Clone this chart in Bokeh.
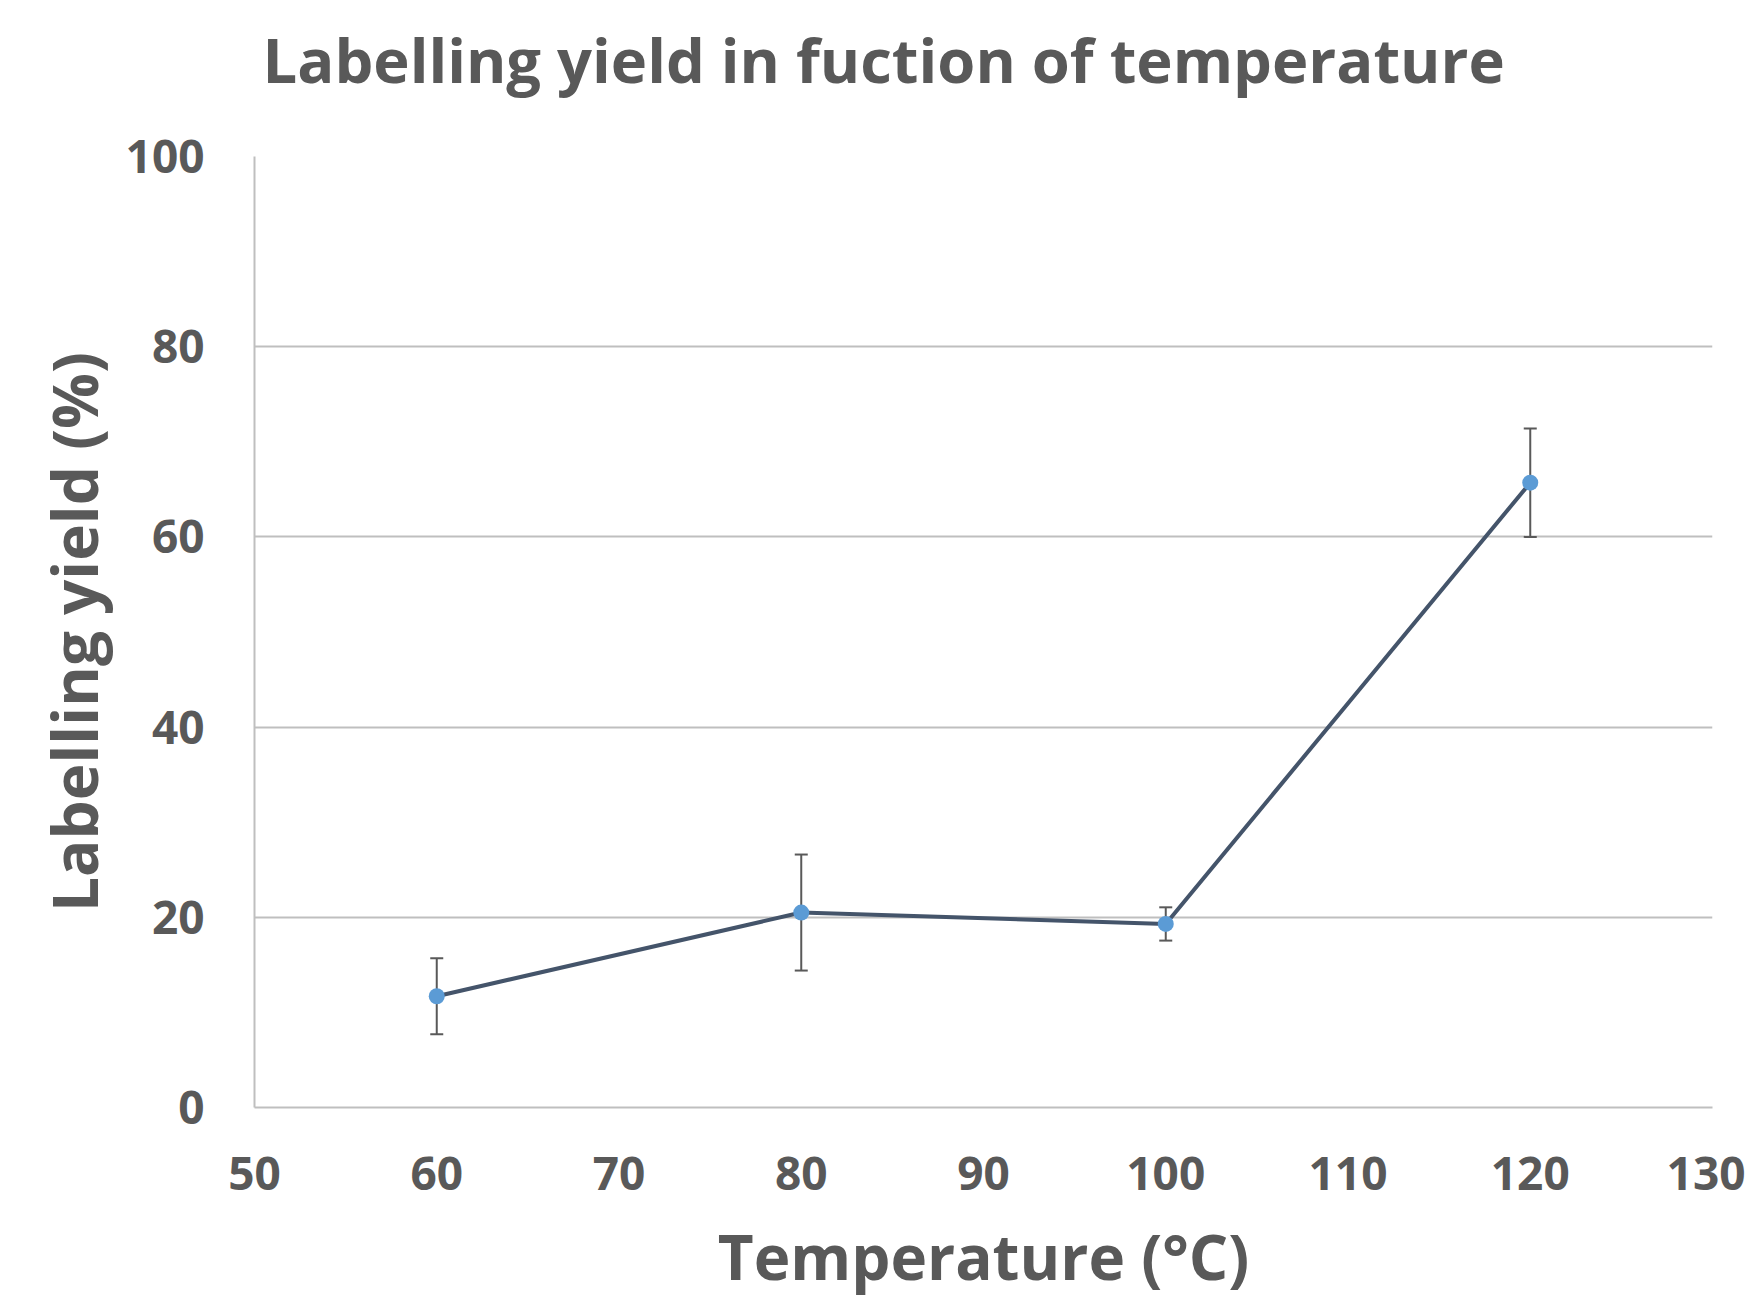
from bokeh.plotting import figure
from bokeh.models import ColumnDataSource, Whisker, TeeHead, FixedTicker, Range1d, Title
from bokeh.embed import file_html
from bokeh.resources import INLINE

# ---- data ----
temperature = [60, 80, 100, 120]
yield_pct = [11.7, 20.5, 19.3, 65.7]
yield_err = [4.0, 6.1, 1.75, 5.7]

x_ticks = [50, 60, 70, 80, 90, 100, 110, 120, 130]
y_ticks = [0, 20, 40, 60, 80, 100]

title_text = "Labelling yield in fuction of temperature"
x_label = "Temperature (°C)"
y_label = "Labelling yield (%)"

FONT = "Open Sans"
TEXT = "#595959"

src = ColumnDataSource(data=dict(
    x=temperature,
    y=yield_pct,
    lower=[v - e for v, e in zip(yield_pct, yield_err)],
    upper=[v + e for v, e in zip(yield_pct, yield_err)],
))

p = figure(
    width=1745, height=1302,
    x_range=Range1d(x_ticks[0], x_ticks[-1]),
    y_range=Range1d(y_ticks[0], y_ticks[-1]),
    output_backend="svg", toolbar_location=None, title_location=None,
    min_border_left=254, min_border_right=33,
    min_border_top=156, min_border_bottom=195,
)
p.outline_line_color = None
p.background_fill_color = "white"
p.border_fill_color = "white"

# gap between the plot area and the chart title
p.add_layout(Title(text=" ", text_font_size="1px", standoff=51), "above")
# chart title
p.add_layout(Title(text=title_text, align="left", offset=8, vertical_align="top",
                   text_font=FONT, text_font_size="61.5px", text_font_style="bold",
                   text_color=TEXT, standoff=0), "above")

# axes
p.xaxis.ticker = FixedTicker(ticks=x_ticks)
p.yaxis.ticker = FixedTicker(ticks=y_ticks)
for ax in (p.xaxis[0], p.yaxis[0]):
    ax.major_tick_line_color = None
    ax.minor_tick_line_color = None
    ax.major_tick_out = 0
    ax.major_tick_in = 0
    ax.axis_line_color = "#bfbfbf"
    ax.axis_line_width = 2
    ax.major_label_text_font = FONT
    ax.major_label_text_font_size = "46px"
    ax.major_label_text_font_style = "bold"
    ax.major_label_text_color = TEXT
    ax.axis_label_text_font = FONT
    ax.axis_label_text_font_style = "bold"
    ax.axis_label_text_color = TEXT

p.xaxis.axis_label = x_label
p.yaxis.axis_label = y_label
p.xaxis.axis_label_text_font_size = "62px"
p.yaxis.axis_label_text_font_size = "62px"
p.xaxis.major_label_standoff = 49
p.yaxis.major_label_standoff = 50
p.xaxis.axis_label_standoff = 21
p.yaxis.axis_label_standoff = 7

p.xgrid.grid_line_color = None
p.ygrid.ticker = FixedTicker(ticks=y_ticks)
p.ygrid.grid_line_color = "#bfbfbf"
p.ygrid.grid_line_width = 2

# error bars
p.add_layout(Whisker(source=src, base="x", lower="lower", upper="upper",
                     line_color="#595959", line_width=2,
                     lower_head=TeeHead(size=13, line_color="#595959", line_width=2),
                     upper_head=TeeHead(size=13, line_color="#595959", line_width=2)))

# series
p.line("x", "y", source=src, line_color="#44546A", line_width=4)
p.scatter("x", "y", source=src, size=16, marker="circle",
          fill_color="#5B9BD5", line_color="#5B9BD5", line_width=0)

open("out.html", "w").write(file_html(p, INLINE))
